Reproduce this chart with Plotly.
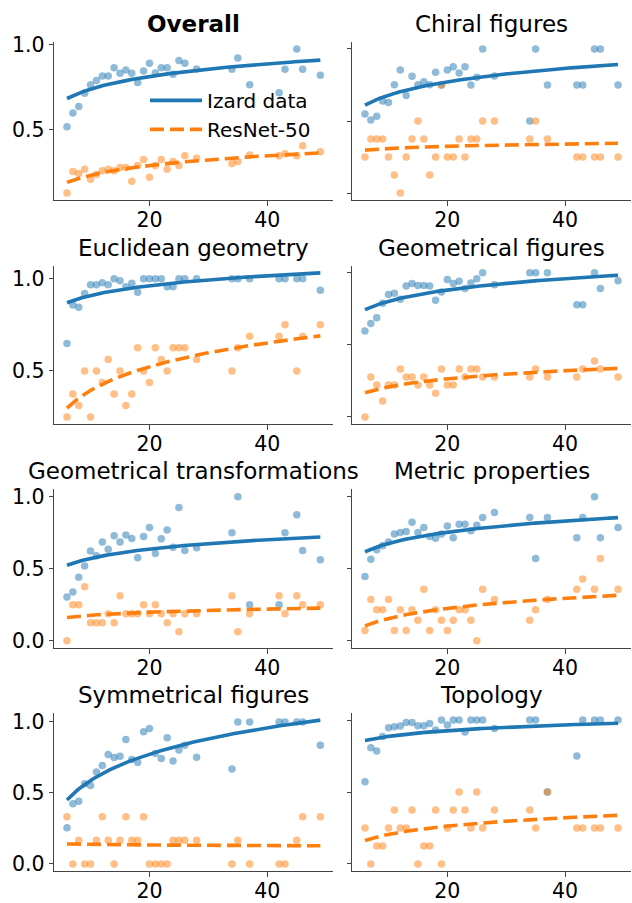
import numpy as np
import plotly.graph_objects as go

ages = [6, 7, 8, 9, 10, 11, 12, 13, 14, 15, 16, 17, 18, 19, 20, 21, 22, 23, 24, 25,
        26, 28, 34, 35, 37, 42, 43, 45, 46, 49]

titles = ["Overall", "Chiral figures", "Euclidean geometry", "Geometrical figures",
          "Geometrical transformations", "Metric properties", "Symmetrical figures", "Topology"]

overall_izard = [0.515, 0.597, 0.636, 0.713, 0.764, 0.789, 0.816, 0.816, 0.864, 0.831, 0.851, 0.831, 0.777, 0.845, 0.891,
                 0.833, 0.864, 0.864, 0.826, 0.907, 0.891, 0.857, 0.855, 0.922, 0.764, 0.717, 0.855, 0.975, 0.855, 0.820]
overall_resnet = [0.124, 0.252, 0.240, 0.264, 0.205, 0.233, 0.256, 0.264, 0.256, 0.275, 0.275, 0.194, 0.287, 0.322, 0.217,
                  0.287, 0.322, 0.264, 0.310, 0.287, 0.345, 0.329, 0.298, 0.310, 0.349, 0.345, 0.357, 0.345, 0.403, 0.368]

chiral_izard = [0.548, 0.507, 0.534, 0.639, 0.628, 0.751, 0.854, 0.678, 0.811, 0.751, 0.772, 0.751, 0.838, 0.75, 0.854,
                0.877, 0.833, 0.877, 0.75, 0.804, 1.0, 0.813, 0.5, 1.0, 0.75, 0.75, 0.75, 1.0, 1.0, 0.75]
chiral_resnet = [0.25, 0.375, 0.375, 0.375, 0.25, 0.125, 0.0, 0.25, 0.375, 0.5, 0.375, 0.125, 0.25, 0.75, 0.25,
                 0.25, 0.375, 0.25, 0.375, 0.375, 0.5, 0.5, 0.375, 0.5, 0.375, 0.25, 0.25, 0.25, 0.25, 0.25]

euclid_izard = [0.648, 0.857, 0.845, 0.920, 0.968, 0.968, 0.979, 0.968, 1.0, 0.989, 0.957, 0.975, 0.927, 1.0, 1.0,
                1.0, 1.0, 0.957, 0.957, 1.0, 1.0, 1.0, 1.0, 1.0, 1.0, 1.0, 1.0, 1.0, 1.0, 0.9375]
euclid_resnet = [0.25, 0.375, 0.3125, 0.5, 0.25, 0.5, 0.4375, 0.5625, 0.375, 0.5, 0.3125, 0.375, 0.625, 0.5, 0.4375,
                 0.625, 0.5625, 0.5, 0.625, 0.625, 0.625, 0.5625, 0.5, 0.625, 0.6875, 0.6875, 0.75, 0.5, 0.6875, 0.75]

geomfig_izard = [0.597, 0.648, 0.689, 0.789, 0.849, 0.858, 0.817, 0.908, 0.927, 0.913, 0.913, 0.908, 0.810, 0.867, 0.954,
                 0.927, 0.941, 0.892, 0.929, 0.959, 1.0, 0.918, 1.0, 1.0, 1.0, 0.778, 0.778, 1.0, 0.892, 0.945]
geomfig_resnet = [0.0, 0.277, 0.222, 0.110, 0.222, 0.222, 0.332, 0.277, 0.277, 0.222, 0.277, 0.222, 0.165, 0.332, 0.222,
                  0.222, 0.332, 0.277, 0.332, 0.332, 0.277, 0.277, 0.277, 0.332, 0.277, 0.277, 0.332, 0.389, 0.332, 0.277]

geomtr_izard = [0.304, 0.338, 0.441, 0.518, 0.623, 0.589, 0.685, 0.635, 0.728, 0.685, 0.733, 0.710, 0.575, 0.724, 0.785,
                0.605, 0.708, 0.769, 0.648, 0.925, 0.626, 0.646, 0.749, 1.0, 0.249, 0.249, 0.749, 0.874, 0.626, 0.562]
geomtr_resnet = [0.0, 0.25, 0.25, 0.375, 0.125, 0.125, 0.125, 0.1875, 0.125, 0.3125, 0.1875, 0.1875, 0.1875, 0.25, 0.1875,
                 0.25, 0.1875, 0.125, 0.1875, 0.0625, 0.1875, 0.1875, 0.3125, 0.0625, 0.1875, 0.3125, 0.1875, 0.3125, 0.25, 0.25]

metric_izard = [0.445, 0.566, 0.632, 0.660, 0.685, 0.740, 0.751, 0.758, 0.822, 0.751, 0.785, 0.724, 0.712, 0.740, 0.797,
                0.715, 0.808, 0.808, 0.763, 0.801, 0.856, 0.890, 0.856, 0.571, 0.856, 0.715, 0.856, 1.0, 0.715, 0.785]
metric_resnet = [0.0714, 0.2857, 0.2143, 0.2143, 0.2857, 0.0714, 0.2143, 0.0714, 0.2143, 0.1429, 0.3571, 0.0714, 0.2143,
                 0.1429, 0.0714, 0.1429, 0.2143, 0.2143, 0.1429, 0.0, 0.3571, 0.2857, 0.1429, 0.2143, 0.2857, 0.3571,
                 0.4286, 0.3571, 0.5714, 0.3571]

symm_izard = [0.255, 0.424, 0.442, 0.565, 0.553, 0.648, 0.694, 0.771, 0.750, 0.759, 0.877, 0.736, 0.715, 0.931, 0.954,
              0.778, 0.743, 0.889, 0.725, 0.803, 0.836, 0.752, 0.669, 1.0, 1.0, 1.0, 1.0, 1.0, 1.0, 0.836]
symm_resnet = [0.333, 0.0, 0.167, 0.0, 0.0, 0.167, 0.333, 0.167, 0.0, 0.167, 0.333, 0.167, 0.167, 0.333, 0.0,
               0.0, 0.0, 0.0, 0.167, 0.167, 0.167, 0.167, 0.0, 0.167, 0.0, 0.0, 0.0, 0.167, 0.333, 0.333]

topo_izard = [0.571, 0.808, 0.785, 0.886, 0.947, 0.954, 0.959, 0.984, 0.984, 0.961, 0.961, 0.977, 0.932, 1.0, 0.966,
              1.0, 1.0, 0.918, 1.0, 1.0, 1.0, 0.941, 1.0, 1.0, 0.5, 0.751, 1.0, 1.0, 1.0, 1.0]
topo_resnet = [0.25, 0.0, 0.125, 0.125, 0.25, 0.375, 0.25, 0.25, 0.375, 0.0, 0.125, 0.125, 0.375, 0.0, 0.25,
               0.375, 0.5, 0.375, 0.25, 0.5, 0.25, 0.375, 0.375, 0.25, 0.5, 0.25, 0.25, 0.25, 0.25, 0.25]

izard_series = [overall_izard, chiral_izard, euclid_izard, geomfig_izard,
                geomtr_izard, metric_izard, symm_izard, topo_izard]
resnet_series = [overall_resnet, chiral_resnet, euclid_resnet, geomfig_resnet,
                 geomtr_resnet, metric_resnet, symm_resnet, topo_resnet]

BLUE = "#1f77b4"
ORANGE = "#ff7f0e"
FONT = "DejaVu Sans"
W, H = 632, 903
AXC = "#444444"

# panel pixel boxes (left, right, top, bottom)
col_x = [(54.3, 333.0), (352.3, 630.7)]
row_y = [(33.3, 194.3), (260.7, 421.7), (488.0, 649.0), (715.0, 875.7)]

x_arr = np.array(ages, dtype=float)
x_fit = np.linspace(min(ages), max(ages), 120)


def log_fit(y):
    coef = np.polyfit(np.log(x_arr), np.array(y, dtype=float), 1)
    return coef[0] * np.log(x_fit) + coef[1]


fig = go.Figure()
layout = {}
annotations = []

for i in range(8):
    r, c = divmod(i, 2)
    ax = "" if i == 0 else str(i + 1)
    xa, ya = "x" + ax, "y" + ax
    yi, yr = izard_series[i], resnet_series[i]
    fi, fr = log_fit(yi), log_fit(yr)

    fig.add_trace(go.Scatter(x=ages, y=yi, mode="markers", xaxis=xa, yaxis=ya, showlegend=False,
                             marker=dict(color=BLUE, size=7.5, opacity=0.5, line=dict(width=0)), hoverinfo="skip"))
    fig.add_trace(go.Scatter(x=ages, y=yr, mode="markers", xaxis=xa, yaxis=ya, showlegend=False,
                             marker=dict(color=ORANGE, size=7.5, opacity=0.5, line=dict(width=0)), hoverinfo="skip"))
    fig.add_trace(go.Scatter(x=x_fit, y=fi, mode="lines", xaxis=xa, yaxis=ya, name="Izard data",
                             showlegend=(i == 0), line=dict(color=BLUE, width=3.6)))
    fig.add_trace(go.Scatter(x=x_fit, y=fr, mode="lines", xaxis=xa, yaxis=ya, name="ResNet-50",
                             showlegend=(i == 0), line=dict(color=ORANGE, width=3.6, dash="14px,6px")))

    allv = np.concatenate([yi, yr, fi, fr])
    lo, hi = allv.min(), allv.max()
    pad = 0.05 * (hi - lo)
    x0, x1 = col_x[c]
    t, b = row_y[r]
    xdom = [x0 / W, x1 / W]
    ydom = [1 - b / H, 1 - t / H]
    xmin, xmax = min(ages), max(ages)
    xpad = 0.05 * (xmax - xmin)
    layout["xaxis" + ax] = dict(domain=xdom, anchor=ya, range=[xmin - xpad, xmax + xpad],
                                tickvals=[20, 40], ticks="outside", ticklen=4.5, tickwidth=1.2,
                                tickcolor=AXC, showline=True, linecolor=AXC, linewidth=1.2,
                                showgrid=False, zeroline=False, ticklabelstandoff=-3,
                                tickfont=dict(size=20.5, color="black", family=FONT))
    layout["yaxis" + ax] = dict(domain=ydom, anchor=xa, range=[lo - pad, hi + pad],
                                tickvals=[0.0, 0.5, 1.0], ticktext=["0.0", "0.5", "1.0"],
                                ticks="outside", ticklen=4.5, tickwidth=1.2, tickcolor=AXC,
                                showline=True, linecolor=AXC, linewidth=1.2,
                                showgrid=False, zeroline=False, showticklabels=(c == 0),
                                tickfont=dict(size=20.5, color="black", family=FONT))
    txt = "<b>%s</b>" % titles[i] if i == 0 else titles[i]
    annotations.append(dict(text=txt, x=(xdom[0] + xdom[1]) / 2, y=ydom[1], xref="paper", yref="paper",
                            xanchor="center", yanchor="bottom", yshift=3, showarrow=False,
                            font=dict(size=23, color="black", family=FONT)))

fig.update_layout(**layout)
fig.update_layout(
    width=W, height=H, margin=dict(l=0, r=0, t=0, b=0),
    paper_bgcolor="white", plot_bgcolor="white",
    font=dict(family=FONT, color="black"),
    annotations=annotations,
    showlegend=True,
    legend=dict(x=145 / W, y=1 - 73 / H, xanchor="left", yanchor="top", bgcolor="rgba(255,255,255,0)",
                font=dict(size=20, family=FONT, color="black"), itemwidth=52, tracegroupgap=0),
)

fig.write_html("out.html")
